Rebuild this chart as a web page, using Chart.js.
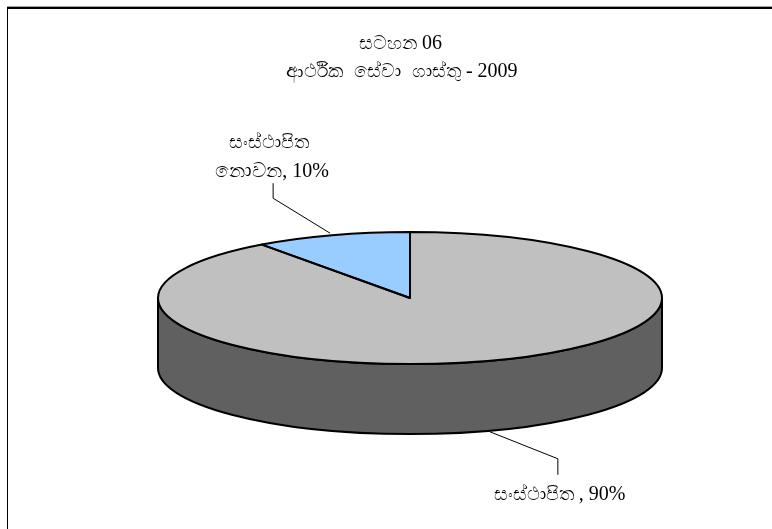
<!DOCTYPE html>
<html><head><meta charset="utf-8">
<style>html,body{margin:0;padding:0;background:#fff}canvas{display:block}#w{width:772px;height:529px;position:relative}</style>
<script src="https://cdn.jsdelivr.net/npm/chart.js@4"></script>
</head><body><div id="w"><canvas id="c" width="772" height="529"></canvas></div>
<script>
const titleWord = 'සටහන';
const titleNumber = '06';
const subtitleWords = 'ආර්ථික සේවා ගාස්තු';
const subtitleYear = ' - 2009';
const categories = ['සංස්ථාපිත', 'සංස්ථාපිත නොවන'];
const values = [90, 10];
const sliceColors = ['#c0c0c0', '#99ccff'];
const wallColor = '#606060';
const FONT = '"Liberation Serif","Times New Roman",serif';
const squash = 66 / 252, depth = 70, topY = 298;
const SI = 19, LAT = 20;

function drawRuns(ctx, runs, cx, base, wordGap){
  ctx.wordSpacing = (wordGap || 0) + 'px';
  let w = 0;
  runs.forEach(r => { ctx.font = r[1] + 'px ' + FONT; r.w = ctx.measureText(r[0]).width; w += r.w; });
  let x = cx - w / 2;
  ctx.textAlign = 'left'; ctx.textBaseline = 'alphabetic';
  runs.forEach(r => { ctx.font = r[1] + 'px ' + FONT; ctx.fillText(r[0], x, base); x += r.w; });
  ctx.wordSpacing = '0px';
}
const pie3d = {
  id: 'pie3d',
  beforeDatasetsDraw(chart){
    const ctx = chart.ctx, a = chart.getDatasetMeta(0).data[0];
    const rx = a.outerRadius, ry = rx * squash, x = a.x;
    ctx.save();
    ctx.beginPath();
    ctx.ellipse(x, topY + depth, rx, ry, 0, 0, Math.PI);
    ctx.lineTo(x - rx, topY);
    ctx.ellipse(x, topY, rx, ry, 0, Math.PI, 0, true);
    ctx.closePath();
    ctx.fillStyle = wallColor; ctx.fill();
    ctx.lineWidth = 2; ctx.strokeStyle = '#000'; ctx.stroke();
    ctx.restore();
    ctx.save();
    ctx.translate(0, topY - a.y * squash);
    ctx.scale(1, squash);
  },
  afterDatasetsDraw(chart){
    const ctx = chart.ctx, arcs = chart.getDatasetMeta(0).data;
    ctx.restore();
    ctx.save();
    ctx.lineWidth = 2; ctx.strokeStyle = '#000'; ctx.lineJoin = 'round';
    arcs.forEach(a => {
      ctx.beginPath();
      ctx.moveTo(a.x, topY);
      ctx.ellipse(a.x, topY, a.outerRadius, a.outerRadius * squash, 0, a.startAngle, a.endAngle);
      ctx.closePath();
      ctx.stroke();
    });
    const [gray, blue] = arcs;
    const mid = (a, d) => {
      const m = (a.startAngle + a.endAngle) / 2;
      return [a.x + a.outerRadius * Math.cos(m), topY + a.outerRadius * squash * Math.sin(m) + d];
    };
    ctx.lineWidth = 1;
    const p1 = mid(blue, 0), p2 = mid(gray, depth);
    ctx.beginPath();
    ctx.moveTo(p1[0] - 2, p1[1] - 2); ctx.lineTo(p1[0] - 59, p1[1] - 37); ctx.lineTo(p1[0] - 59, p1[1] - 52);
    ctx.moveTo(p2[0] + 2, p2[1] + 1); ctx.lineTo(p2[0] + 70, p2[1] + 28); ctx.lineTo(p2[0] + 70, p2[1] + 44);
    ctx.stroke();
    ctx.fillStyle = '#000';
    const [a1, a2] = categories[1].split(' ');
    drawRuns(ctx, [[a1, 18.5]], 269, 148);
    drawRuns(ctx, [[a2 + ',', 20], [' ' + values[1] + '%', LAT]], 272, 177);
    drawRuns(ctx, [[categories[0], SI], [' , ' + values[0] + '%', LAT]], 559.5, 500);
    drawRuns(ctx, [[titleWord + ' ', SI], [titleNumber, LAT]], 400.5, 49);
    drawRuns(ctx, [[subtitleWords, SI], [subtitleYear, LAT]], 402, 77, 6);
    ctx.restore();
  }
};
const frame = {
  id: 'frame',
  beforeDraw(chart){
    const ctx = chart.ctx;
    ctx.save();
    ctx.fillStyle = '#fff'; ctx.fillRect(0, 0, 772, 529);
    ctx.fillStyle = '#a0a0a0'; ctx.fillRect(7, 6, 765, 1);
    ctx.fillStyle = '#000';
    ctx.fillRect(7, 7, 765, 2);
    ctx.fillRect(7, 7, 1, 522);
    ctx.restore();
  }
};
new Chart(document.getElementById('c'), {
  type: 'pie',
  data: { labels: categories, datasets: [{ data: values, backgroundColor: sliceColors, borderWidth: 0, radius: 252 }] },
  options: {
    responsive: false, animation: false,
    layout: { padding: { left: 48, right: 0, top: 0, bottom: 0 } },
    plugins: { legend: { display: false }, tooltip: { enabled: false } }
  },
  plugins: [frame, pie3d]
});
</script></body></html>
